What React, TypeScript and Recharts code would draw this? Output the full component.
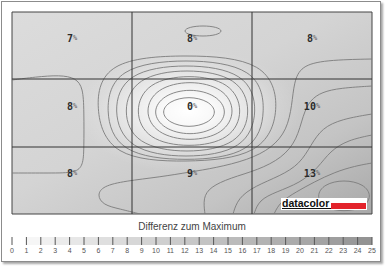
import React from 'react';
import {
  ComposedChart,
  Line,
  Scatter,
  XAxis,
  YAxis,
  ReferenceLine,
  ReferenceArea,
} from 'recharts';

// the map is addressed in the picture's own pixel grid: x 12..372, y 12..214
type P = [number, number];

const gridXs = [132, 252];
const gridYs = [79, 147];

const labelCols = [72, 192, 312];
const labelRows = [38, 106, 173];
const cellValues = [7, 8, 8, 8, 0, 10, 8, 9, 13];

// closed contours round the bright centre (control points)
const ring1: P[] = [[217, 112], [209, 123], [189, 128], [169, 123], [161, 112], [169, 101], [189, 96], [209, 101]];
const ring2: P[] = [[228, 112], [217, 129], [190, 136], [163, 129], [152, 112], [163, 95], [190, 88], [217, 95]];
const ring3: P[] = [[236, 111], [224, 134], [190, 142], [156, 134], [144, 111], [156, 88], [190, 80], [224, 88]];
const ring4: P[] = [[244, 111], [231, 140], [189, 148], [147, 140], [134, 111], [147, 82], [189, 74], [231, 82]];
const ring5: P[] = [[252, 111], [239, 145], [187, 154], [135, 145], [122, 111], [135, 77], [187, 68], [239, 77]];
const ring6: P[] = [[259, 111], [245, 150], [186, 159], [127, 150], [112, 111], [125, 72], [186, 63], [247, 72]];
const ring7: P[] = [[267, 111], [254, 154], [186, 162], [118, 154], [104, 111], [115, 67], [186, 58], [257, 67]];
const ring8: P[] = [[281, 110], [262, 156], [186, 163], [110, 158], [94, 108], [104, 60], [186, 54], [268, 60]];
const topLoop: P[] = [[223, 31], [217, 35], [203, 36.5], [189, 35], [183, 31], [189, 27], [203, 25.5], [217, 27]];
const cornerLoop: P[] = [[372, 196], [364, 208], [344, 212], [324, 208], [316, 196], [324, 184], [344, 179.5], [364, 184]];

// open contours
const leftBend: P[] = [[12, 80], [35, 77], [60, 75], [76, 78], [83, 88], [84, 110], [84, 150], [83, 165], [76, 173], [50, 173], [12, 173]];
const nineLine: P[] = [[140, 214], [120, 209], [103, 205], [97, 195], [103, 186], [125, 181], [160, 177], [190, 172], [215, 168], [248, 160], [272, 148], [287, 130], [292, 105], [294, 82], [301, 66], [325, 60], [372, 59]];
const arc1: P[] = [[205, 214], [203, 198], [210, 187], [230, 178], [258, 170], [282, 158], [297, 140], [303, 115], [310, 100], [322, 92], [340, 88], [372, 86]];
const arc2: P[] = [[233, 214], [238, 198], [255, 186], [280, 176], [300, 164], [311, 145], [322, 128], [342, 119], [372, 114]];
const arc3: P[] = [[254, 214], [259, 200], [276, 192], [300, 183], [318, 168], [330, 151], [348, 140], [372, 135]];
const arc4: P[] = [[274, 214], [280, 202], [296, 192], [314, 182], [335, 172], [355, 166], [372, 163]];

const closedLines = [ring1, ring2, ring3, ring4, ring5, ring6, ring7, ring8, topLoop, cornerLoop];
const openLines = [leftBend, nineLine, arc1, arc2, arc3, arc4];

const legendTicks = [0, 1, 2, 3, 4, 5, 6, 7, 8, 9, 10, 11, 12, 13, 14, 15, 16, 17, 18, 19, 20, 21, 22, 23, 24, 25];
const legendShades = [
  '#ffffff', '#f6f6f6', '#f0f0f0', '#ebebeb', '#e7e7e7', '#e3e3e3', '#dfdfdf', '#dbdbdb', '#d7d7d7',
  '#d3d3d3', '#cfcfcf', '#cbcbcb', '#c7c7c7', '#c3c3c3', '#bfbfbf', '#bbbbbb', '#b7b7b7', '#b3b3b3',
  '#afafaf', '#ababab', '#a7a7a7', '#a3a3a3', '#9e9e9e', '#999999', '#939393',
];

const toRows = (pts: P[]) => pts.map(([x, y]) => ({ x, y }));

const cells = cellValues.map((v, i) => ({
  x: labelCols[i % 3],
  y: labelRows[Math.floor(i / 3)],
  v,
}));

const legendRows = legendTicks.map((t) => ({ x: t, y: 0.5 }));

const CellText = (props: any) => {
  const { cx, cy, payload } = props;
  return (
    <text x={cx} y={cy} textAnchor="middle" dominantBaseline="central" fontFamily="'DejaVu Sans Mono', monospace">
      <tspan fontSize={10} fontWeight="bold" fill="#2b2b2b">{payload.v}</tspan>
      <tspan fontSize={7} fill="#666">%</tspan>
    </text>
  );
};

const lineStroke = '#7c7c7c';

export default function App() {
  return (
    <div style={{ position: 'absolute', left: 0, top: 0, width: 390, height: 270, background: '#fff', fontFamily: "'Liberation Sans', Arial, sans-serif" }}>
      <div
        style={{
          position: 'absolute',
          left: 1,
          top: 1,
          width: 378,
          height: 259,
          border: '1px solid #8c8c8c',
          boxShadow: '2px 2px 2px rgba(0,0,0,0.35)',
          background: '#fff',
        }}
      />
      <div style={{ position: 'absolute', left: 0, top: 0 }}>
        <ComposedChart width={390} height={270} margin={{ top: 12, right: 18, bottom: 56, left: 12 }}>
          <defs>
            <linearGradient id="shade" x1="0" y1="0" x2="1" y2="1">
              <stop offset="0" stopColor="#dcdcdc" />
              <stop offset="0.45" stopColor="#d4d4d4" />
              <stop offset="0.75" stopColor="#c4c4c4" />
              <stop offset="1" stopColor="#a8a8a8" />
            </linearGradient>
            <radialGradient id="glow" cx="0.49" cy="0.49" r="0.5">
              <stop offset="0" stopColor="#ffffff" stopOpacity={1} />
              <stop offset="0.15" stopColor="#ffffff" stopOpacity={0.85} />
              <stop offset="0.32" stopColor="#ffffff" stopOpacity={0.5} />
              <stop offset="0.5" stopColor="#ffffff" stopOpacity={0.12} />
              <stop offset="0.62" stopColor="#ffffff" stopOpacity={0} />
            </radialGradient>
          </defs>
          <XAxis type="number" dataKey="x" domain={[12, 372]} hide allowDataOverflow />
          <YAxis type="number" dataKey="y" domain={[12, 214]} reversed hide allowDataOverflow />
          <ReferenceArea x1={12} x2={372} y1={12} y2={214} fill="url(#shade)" fillOpacity={1} stroke="none" />
          <ReferenceArea x1={12} x2={372} y1={12} y2={214} fill="url(#glow)" fillOpacity={1} stroke="none" />
          {closedLines.map((pts, i) => (
            <Line
              key={'c' + i}
              data={toRows(pts)}
              dataKey="y"
              type="basisClosed"
              stroke={lineStroke}
              strokeWidth={0.9}
              dot={false}
              activeDot={false}
              isAnimationActive={false}
            />
          ))}
          {openLines.map((pts, i) => (
            <Line
              key={'o' + i}
              data={toRows(pts)}
              dataKey="y"
              type="basis"
              stroke={lineStroke}
              strokeWidth={0.9}
              dot={false}
              activeDot={false}
              isAnimationActive={false}
            />
          ))}
          {gridXs.map((x) => (
            <ReferenceLine key={'gx' + x} x={x} stroke="#333" strokeWidth={1} />
          ))}
          {gridYs.map((y) => (
            <ReferenceLine key={'gy' + y} y={y} stroke="#333" strokeWidth={1} />
          ))}
          <ReferenceArea x1={12} x2={372} y1={12} y2={214} fill="none" stroke="#444" strokeWidth={1} />
          <Scatter data={cells} shape={CellText} isAnimationActive={false} />
        </ComposedChart>
      </div>

      <div style={{ position: 'absolute', left: 281, top: 198, width: 86, height: 12, background: '#fff' }}>
        <span style={{ position: 'absolute', left: 1, top: -1, fontSize: 10.5, fontWeight: 'bold', color: '#111', lineHeight: '12px' }}>
          datacolor
        </span>
        <div style={{ position: 'absolute', left: 1, top: 10, width: 50, height: 1, background: '#111' }} />
        <div style={{ position: 'absolute', left: 50, top: 5, width: 35, height: 6, background: '#e3232b' }} />
      </div>

      <div style={{ position: 'absolute', left: 0, top: 221, width: 384, textAlign: 'center', fontSize: 10, color: '#444' }}>
        Differenz zum Maximum
      </div>

      <div style={{ position: 'absolute', left: 0, top: 230 }}>
        <ComposedChart width={390} height={30} data={legendRows} margin={{ top: 7, right: 18, bottom: 0, left: 12 }}>
          <XAxis
            type="number"
            dataKey="x"
            domain={[0, 25]}
            ticks={legendTicks}
            interval={0}
            axisLine={false}
            tickLine={false}
            tickSize={0}
            tickMargin={3}
            height={15}
            tick={{ fontSize: 7, fill: '#555', fontFamily: "'Liberation Sans', Arial, sans-serif" }}
          />
          <YAxis type="number" dataKey="y" domain={[0, 1]} hide />
          {legendShades.map((c, i) => (
            <ReferenceArea key={'s' + i} x1={legendTicks[i]} x2={legendTicks[i + 1]} y1={0} y2={1} fill={c} fillOpacity={1} stroke="none" />
          ))}
          {legendTicks.map((t) => (
            <ReferenceLine key={'t' + t} x={t} stroke="#555" strokeWidth={1} />
          ))}
          <Line dataKey="y" stroke="none" dot={false} activeDot={false} isAnimationActive={false} />
        </ComposedChart>
      </div>
    </div>
  );
}
